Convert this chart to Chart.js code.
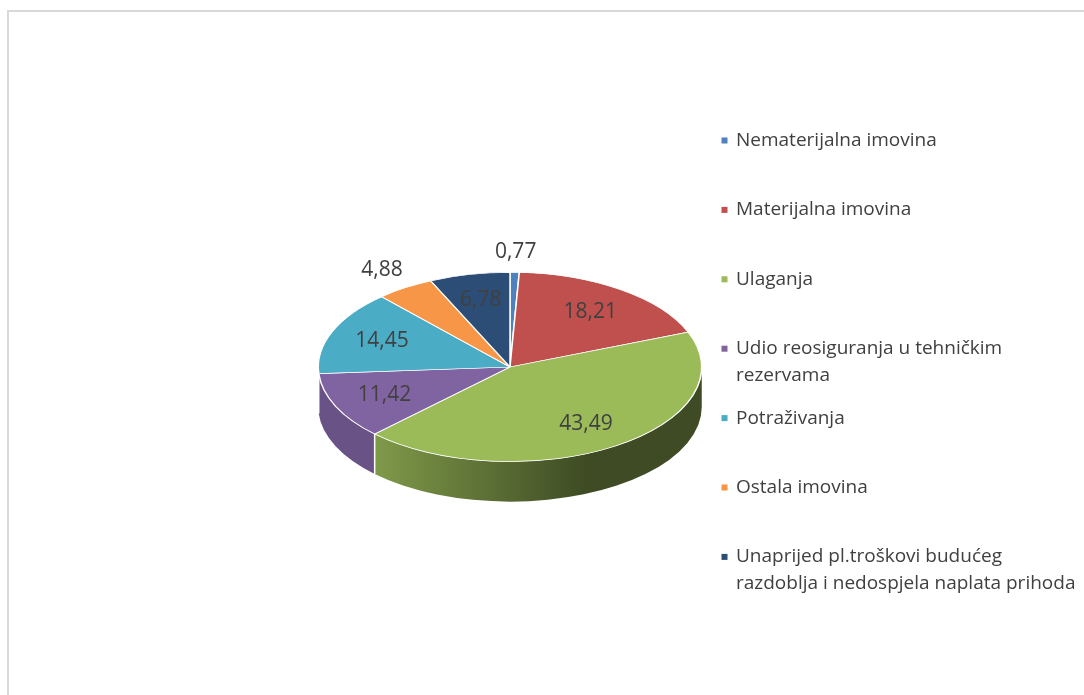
<!DOCTYPE html>
<html>
<head>
<meta charset="utf-8">
<script src="https://cdn.jsdelivr.net/npm/chart.js@4/dist/chart.umd.min.js"></script>
<style>
  html, body { margin: 0; padding: 0; background: #fff; overflow: hidden; }
  #frame {
    position: absolute; left: 7px; top: 10px; width: 1200px; height: 800px;
    border-top: 2px solid #d9d9d9; border-left: 2px solid #d9d9d9;
  }
  #wrap { position: absolute; left: 0; top: 0; width: 1084px; height: 695px; }
</style>
</head>
<body>
<div id="frame"></div>
<div id="wrap"><canvas id="pie"></canvas></div>
<script>
// legend lines (wrapped entries are arrays)
const categories = [
  'Nematerijalna imovina',
  'Materijalna imovina',
  'Ulaganja',
  ['Udio reosiguranja u tehničkim', 'rezervama'],
  'Potraživanja',
  'Ostala imovina',
  ['Unaprijed pl.troškovi budućeg', 'razdoblja i nedospjela naplata prihoda']
];
const values = [0.77, 18.21, 43.49, 11.42, 14.45, 4.88, 6.78];
const colors = ['#4F81BD', '#C0504D', '#9BBB59', '#8064A2', '#4BACC6', '#F79646', '#2C4D75'];

const TILT = 0.4935;   // vertical squash of the top face
const DEPTH = 40;      // thickness of the pie
const TEXT = '#404040';

function shade(hex, f) {
  const n = parseInt(hex.slice(1), 16);
  const r = Math.round(((n >> 16) & 255) * f);
  const g = Math.round(((n >> 8) & 255) * f);
  const b = Math.round((n & 255) * f);
  return `rgb(${r},${g},${b})`;
}

const fmt = v => v.toFixed(2).replace('.', ',');

const pie3d = {
  id: 'pie3d',
  beforeDatasetsDraw(chart) {
    const ctx = chart.ctx;
    const arcs = chart.getDatasetMeta(0).data;
    const cx = arcs[0].x, cy = arcs[0].y, r = arcs[0].outerRadius;
    const ry = r * TILT;

    // side walls (front half only)
    arcs.forEach((arc, i) => {
      const a0 = Math.max(arc.startAngle, 0);
      const a1 = Math.min(arc.endAngle, Math.PI);
      if (a1 <= a0) return;
      const g = ctx.createLinearGradient(cx - 0.7 * r, 0, cx + 0.4 * r, 0);
      g.addColorStop(0, shade(colors[i], 0.82));
      g.addColorStop(1, shade(colors[i], 0.4));
      ctx.beginPath();
      ctx.ellipse(cx, cy, r, ry, 0, a0, a1);
      ctx.ellipse(cx, cy + DEPTH, r, ry, 0, a1, a0, true);
      ctx.closePath();
      ctx.fillStyle = g;
      ctx.fill();
    });
    // white seams between walls
    ctx.strokeStyle = '#fff';
    ctx.lineWidth = 1.5;
    arcs.forEach(arc => {
      const a = arc.startAngle;
      if (a > 0 && a < Math.PI) {
        const x = cx + r * Math.cos(a), y = cy + ry * Math.sin(a);
        ctx.beginPath();
        ctx.moveTo(x, y);
        ctx.lineTo(x, y + DEPTH);
        ctx.stroke();
      }
    });

    ctx.save();
    ctx.translate(0, cy);
    ctx.scale(1, TILT);
    ctx.translate(0, -cy);
  },
  afterDatasetsDraw(chart) {
    const ctx = chart.ctx;
    ctx.restore();
    const arcs = chart.getDatasetMeta(0).data;
    ctx.save();
    ctx.font = '21px "Open Sans"';
    ctx.fillStyle = TEXT;
    ctx.textAlign = 'center';
    ctx.textBaseline = 'middle';
    arcs.forEach((arc, i) => {
      const mid = (arc.startAngle + arc.endAngle) / 2;
      const f = values[i] < 5 ? 1.22 : 0.72;
      const x = arc.x + arc.outerRadius * f * Math.cos(mid);
      const y = arc.y + arc.outerRadius * TILT * f * Math.sin(mid);
      ctx.fillText(fmt(values[i]), x, y);
    });
    ctx.restore();
  },
  afterDraw(chart) {
    const ctx = chart.ctx;
    ctx.save();
    ctx.font = '19px "Open Sans"';
    ctx.textAlign = 'left';
    ctx.textBaseline = 'middle';
    categories.forEach((c, i) => {
      const y = 140.5 + i * 69.4;
      ctx.fillStyle = colors[i];
      ctx.fillRect(721.5, y - 3, 6, 6);
      ctx.fillStyle = TEXT;
      [].concat(c).forEach((t, j) => ctx.fillText(t, 736, y + j * 26.5));
    });
    ctx.restore();
  }
};

new Chart(document.getElementById('pie'), {
  type: 'pie',
  data: {
    labels: categories.map(c => [].concat(c).join(' ')),
    datasets: [{
      data: values,
      backgroundColor: colors,
      borderColor: '#ffffff',
      borderWidth: 1.5,
      hoverOffset: 0
    }]
  },
  options: {
    responsive: true,
    maintainAspectRatio: false,
    animation: false,
    events: [],
    layout: { padding: { left: 317.5, right: 381.5, top: 174.5, bottom: 135.5 } },
    plugins: { legend: { display: false }, tooltip: { enabled: false } }
  },
  plugins: [pie3d]
});
</script>
</body>
</html>
